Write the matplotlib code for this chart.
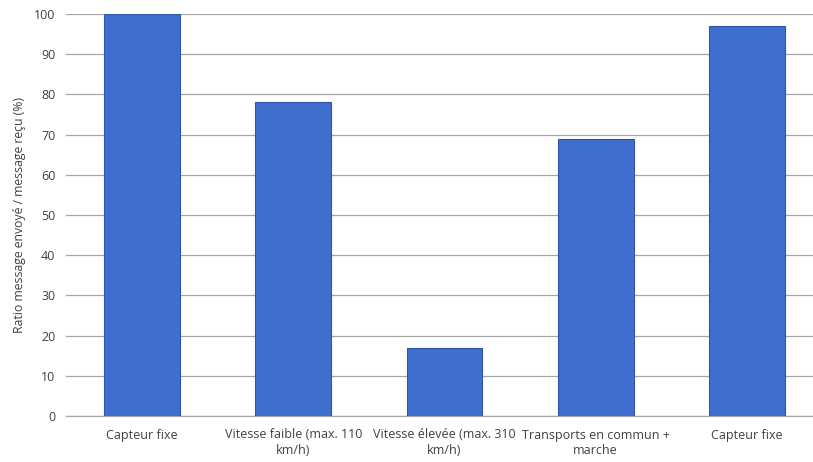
import numpy as np
from matplotlib import pyplot as plt

# Data
categories = ["Capteur fixe",
              "Vitesse faible (max. 110\nkm/h)",
              "Vitesse élevée (max. 310\nkm/h)",
              "Transports en commun +\nmarche",
              "Capteur fixe"]
ratios = [100, 78, 17, 69, 97]
yticks = list(range(0, 101, 10))

plt.rcParams['font.family'] = ['Open Sans', 'DejaVu Sans']

fig = plt.figure(figsize=(8.13, 4.62), dpi=100)
# axes extends a little past the right edge, like the original
left, right = 66.4 / 813, 822.6 / 813
bottom, top = (462 - 416) / 462, (462 - 14) / 462
ax = fig.add_axes([left, bottom, right - left, top - bottom])

x = np.arange(len(categories))
ax.bar(x, ratios, width=0.5, color="#3f6ecf", edgecolor="#2f55a8",
       linewidth=0.8, zorder=3)

ax.set_xlim(-0.5, len(categories) - 0.5)
ax.set_ylim(0, 100)
ax.set_yticks(yticks)
ax.set_xticks(x)
ax.set_xticklabels(categories, fontsize=9, color="#404040", linespacing=1.25)
ax.tick_params(axis='y', labelsize=9, labelcolor="#404040", length=0, pad=8)
ax.tick_params(axis='x', length=0, pad=9)

ax.yaxis.grid(True, color="#a6a6a6", linewidth=0.9, zorder=0)
for s in ["left", "right", "top"]:
    ax.spines[s].set_visible(False)
ax.spines["bottom"].set_color("#a6a6a6")
ax.spines["bottom"].set_linewidth(0.9)

fig.text(20 / 813, (462 - 215) / 462, "Ratio message envoyé / message reçu (%)",
         rotation=90, ha="center", va="center", fontsize=8.8, color="#404040")

fig.savefig("out.png", dpi=100)
